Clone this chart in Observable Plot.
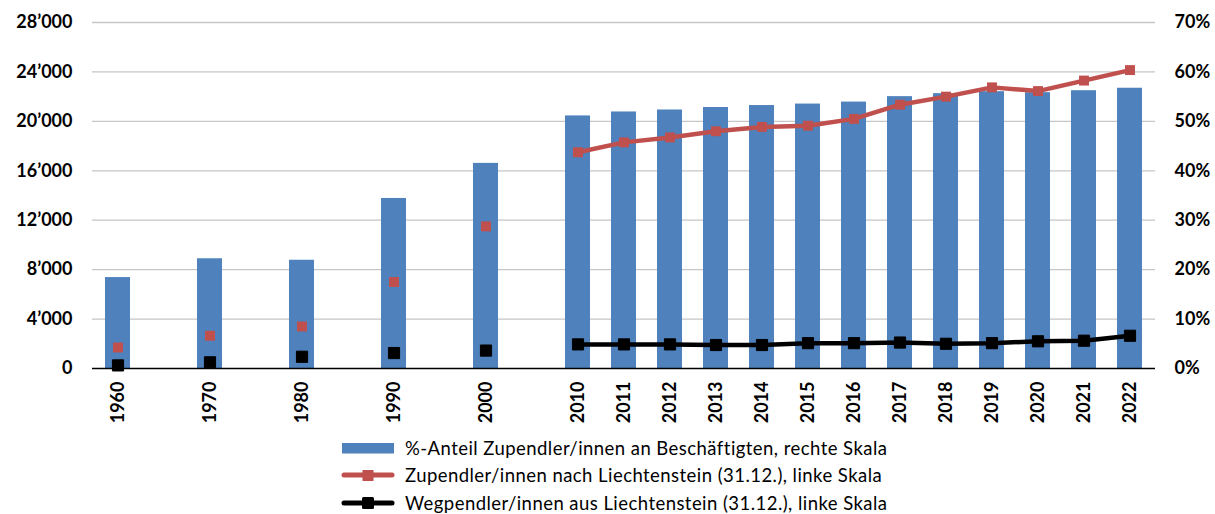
<!DOCTYPE html>
<html>
<head>
<meta charset="utf-8">
<script src="https://cdn.jsdelivr.net/npm/d3@7"></script>
<script src="https://cdn.jsdelivr.net/npm/@observablehq/plot@0.6"></script>
<style>
  html, body { margin: 0; padding: 0; background: #fff; }
  body { width: 1215px; height: 514px; overflow: hidden; font-family: Lato, "Open Sans", sans-serif; }
  #legend { margin-left: 341px; font-size: 18.5px; letter-spacing: 0.45px; color: #000; }
  .row { display: flex; align-items: center; height: 27.5px; }
  .row svg { margin-right: 10px; flex: none; }
</style>
</head>
<body>
<div id="chart"></div>
<div id="legend"></div>
<script>
// ---- data ----
const years = [1960, 1970, 1980, 1990, 2000, 2010, 2011, 2012, 2013, 2014, 2015, 2016, 2017, 2018, 2019, 2020, 2021, 2022];
// %-Anteil Zupendler/innen an Beschäftigten (right scale, %)
const anteilProzent = [18.4, 22.2, 21.9, 34.4, 41.5, 51.1, 51.9, 52.3, 52.8, 53.2, 53.5, 53.9, 55.0, 55.6, 56.0, 55.8, 56.2, 56.7];
// Zupendler/innen nach Liechtenstein (left scale)
const zupendler = [1700, 2650, 3400, 7000, 11500, 17500, 18300, 18700, 19200, 19550, 19650, 20200, 21350, 22000, 22750, 22450, 23300, 24150];
// Wegpendler/innen aus Liechtenstein (left scale)
const wegpendler = [250, 500, 950, 1250, 1450, 1950, 1950, 1950, 1900, 1900, 2050, 2050, 2100, 2000, 2050, 2200, 2250, 2650];
const leftTicks = [0, 4000, 8000, 12000, 16000, 20000, 24000, 28000];
const rightMax = 70;   // right axis 0–70 %
const leftMax = 28000; // left axis 0–28'000
const legendLabels = [
  "%-Anteil Zupendler/innen an Beschäftigten, rechte Skala",
  "Zupendler/innen nach Liechtenstein (31.12.), linke Skala",
  "Wegpendler/innen aus Liechtenstein (31.12.), linke Skala"
];
const colBar = "#4F81BD", colZu = "#C0504D", colWeg = "#000000";

// ---- build ----
const k = leftMax / rightMax; // map % onto left scale
const domain = [];
years.forEach(y => { domain.push(String(y)); if (y <= 2000) domain.push("gap" + y); });
const data = years.map((y, i) => ({key: String(y), year: y, share: anteilProzent[i], zu: zupendler[i], weg: wegpendler[i]}));
const recent = data.filter(d => d.year >= 2010);
const fmt = d => d3.format(",")(d).replace(/,/g, "’");

const chart = Plot.plot({
  width: 1215,
  height: 434,
  marginLeft: 92,
  marginRight: 60,
  marginTop: 22,
  marginBottom: 66,
  style: {fontFamily: "Lato, 'Open Sans', sans-serif", fontSize: "18px", fontWeight: "bold", color: "#000", background: "#fff"},
  x: {type: "band", domain, paddingInner: 0.46, paddingOuter: 0.23},
  y: {domain: [0, leftMax]},
  marks: [
    Plot.ruleY(leftTicks.filter(d => d > 0), {stroke: "#c6c6c6", strokeWidth: 1.3}),
    Plot.barY(data, {x: "key", y: d => d.share * k, fill: colBar}),
    Plot.ruleY([0], {stroke: "#000", strokeWidth: 1.6}),
    Plot.line(recent, {x: "key", y: "zu", stroke: colZu, strokeWidth: 4.5}),
    Plot.dot(data, {x: "key", y: "zu", symbol: "square", r: 5.6, fill: colZu}),
    Plot.line(recent, {x: "key", y: "weg", stroke: colWeg, strokeWidth: 4.5}),
    Plot.dot(data, {x: "key", y: "weg", symbol: "square", r: 6.3, fill: colWeg, stroke: colWeg, strokeWidth: 1, strokeLinejoin: "round"}),
    Plot.axisY(leftTicks, {anchor: "left", tickSize: 0, tickPadding: 20, tickFormat: fmt, label: null}),
    Plot.axisY(leftTicks, {anchor: "right", tickSize: 0, tickPadding: 19, tickFormat: d => Math.round(d / k) + "%", label: null}),
    Plot.axisX(years.map(String), {anchor: "bottom", tickSize: 0, tickPadding: 13, tickRotate: -90, label: null})
  ]
});
document.getElementById("chart").appendChild(chart);

// ---- legend ----
const legend = document.getElementById("legend");
const swatches = [
  `<svg width="54" height="16"><rect x="1" y="3" width="52" height="10.5" fill="${colBar}"/></svg>`,
  `<svg width="54" height="16"><line x1="3" y1="8" x2="51" y2="8" stroke="${colZu}" stroke-width="5" stroke-linecap="round"/><rect x="21.5" y="3" width="11" height="11" fill="${colZu}"/></svg>`,
  `<svg width="54" height="16"><line x1="3" y1="8" x2="51" y2="8" stroke="${colWeg}" stroke-width="5" stroke-linecap="round"/><rect x="21" y="2" width="12" height="12" rx="1.5" fill="${colWeg}"/></svg>`
];
legendLabels.forEach((t, i) => {
  const row = document.createElement("div");
  row.className = "row";
  row.innerHTML = swatches[i] + `<span>${t}</span>`;
  legend.appendChild(row);
});
</script>
</body>
</html>
